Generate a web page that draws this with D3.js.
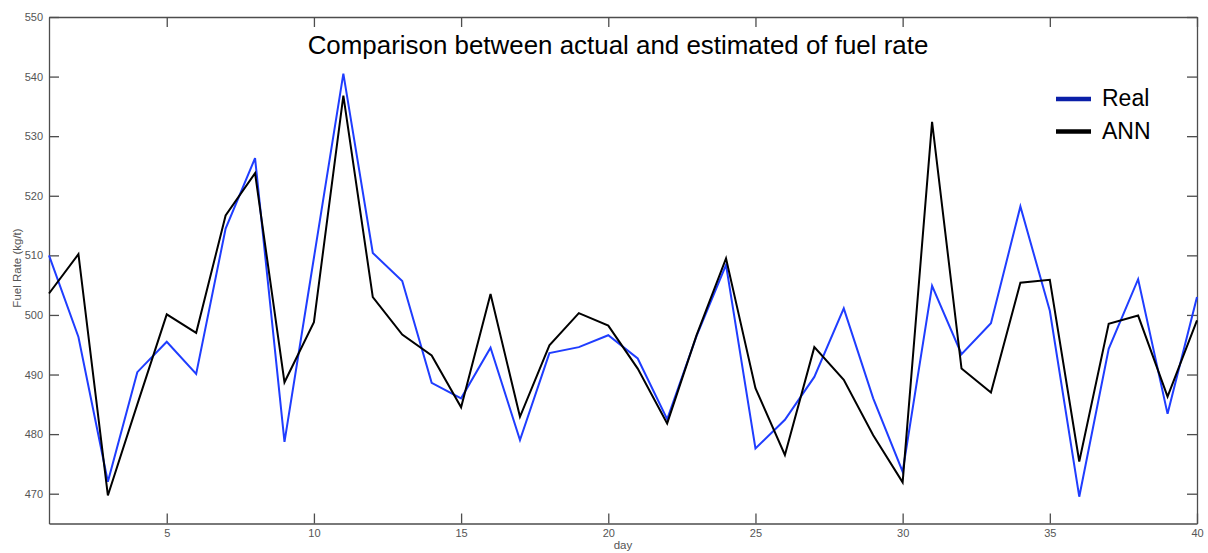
<!DOCTYPE html>
<html>
<head>
<meta charset="utf-8">
<script src="https://cdn.jsdelivr.net/npm/d3@7"></script>
<style>
  body { margin: 0; background: #fff; }
  svg { display: block; font-family: "Liberation Sans", Arial, Helvetica, sans-serif; }
  .axis path, .axis line { stroke: #4d4d4d; stroke-width: 1.3; }
  .axis text { fill: #555; font-size: 11px; }
</style>
</head>
<body>
<div id="chart"></div>
<script>
// values
var days = d3.range(1, 41);
var realRate = [510, 496.3, 472, 490.4, 495.5, 490.1, 514.5, 526.3, 478.7, 509.6,
                540.5, 510.4, 505.7, 488.6, 486, 494.5, 479, 493.6, 494.6, 496.6,
                492.7, 482.5, 496.5, 508.4, 477.6, 482.4, 489.6, 501.1, 486, 473.7,
                504.9, 493.4, 498.6, 518.2, 500.7, 469.5, 494.3, 506, 483.4, 503];
var annRate = [503.6, 510.2, 469.7, 485, 500.1, 497, 516.7, 523.8, 488.7, 498.8,
               536.8, 503, 496.7, 493.2, 484.5, 503.5, 482.9, 494.9, 500.3, 498.2,
               491, 481.8, 496.6, 509.5, 487.7, 476.5, 494.6, 489.1, 479.8, 471.9,
               532.4, 491, 487, 505.4, 505.9, 475.4, 498.5, 499.9, 486.3, 499.1];
var yTicks = [470, 480, 490, 500, 510, 520, 530, 540, 550];
var xTicks = [5, 10, 15, 20, 25, 30, 35, 40];
var series = [
  {name: "Real", values: realRate, color: "#1f3dff"},
  {name: "ANN", values: annRate, color: "#000000"}
];

var width = 1208, height = 553;
var margin = {left: 49, right: 11, top: 17, bottom: 29.5};

var svg = d3.select("#chart").append("svg")
    .attr("width", width)
    .attr("height", height);

var x = d3.scaleLinear()
    .domain([1, 40])
    .range([margin.left, width - margin.right]);
var y = d3.scaleLinear()
    .domain([465, 550])
    .range([height - margin.bottom, margin.top]);

// axes, ticks point inward like matlab
svg.append("g")
    .attr("class", "axis")
    .attr("transform", "translate(0," + y(465) + ")")
    .call(d3.axisBottom(x).tickValues(xTicks).tickSizeInner(-10).tickSizeOuter(0).tickPadding(6));
svg.append("g")
    .attr("class", "axis")
    .attr("transform", "translate(0," + y(550) + ")")
    .call(d3.axisTop(x).tickValues(xTicks).tickSizeInner(-10).tickSizeOuter(0).tickFormat(""));
svg.append("g")
    .attr("class", "axis")
    .attr("transform", "translate(" + x(1) + ",0)")
    .call(d3.axisLeft(y).tickValues(yTicks).tickSizeInner(-10).tickSizeOuter(0).tickPadding(6));
svg.append("g")
    .attr("class", "axis")
    .attr("transform", "translate(" + x(40) + ",0)")
    .call(d3.axisRight(y).tickValues(yTicks).tickSizeInner(-10).tickSizeOuter(0).tickFormat(""));

var line = d3.line()
    .x(function (d, i) { return x(days[i]); })
    .y(function (d) { return y(d); });

svg.selectAll(".series")
    .data(series)
    .enter().append("path")
    .attr("class", "series")
    .attr("fill", "none")
    .attr("stroke", function (d) { return d.color; })
    .attr("stroke-width", 2)
    .attr("stroke-linejoin", "miter")
    .attr("d", function (d) { return line(d.values); });

// title
var title = svg.append("text")
    .attr("x", 618)
    .attr("y", 53.5)
    .attr("text-anchor", "middle")
    .attr("font-size", 24)
    .attr("fill", "#000")
    .text("Comparison between actual and estimated of fuel rate");
var tw = title.node().getComputedTextLength();
title.attr("font-size", 24 * 621 / tw);

// axis labels
svg.append("text")
    .attr("x", 623)
    .attr("y", 549)
    .attr("text-anchor", "middle")
    .attr("font-size", 11.5)
    .attr("fill", "#555")
    .text("day");
svg.append("text")
    .attr("transform", "translate(21,268) rotate(-90)")
    .attr("text-anchor", "middle")
    .attr("font-size", 11.5)
    .attr("fill", "#555")
    .text("Fuel Rate (kg/t)");

// legend
var legend = svg.selectAll(".legend")
    .data(series)
    .enter().append("g")
    .attr("class", "legend")
    .attr("transform", function (d, i) { return "translate(1056," + (99 + i * 32.5) + ")"; });
legend.append("line")
    .attr("x1", 0).attr("x2", 35)
    .attr("stroke", function (d, i) { return i === 0 ? "#0a1fa8" : "#000"; })
    .attr("stroke-width", 4.5);
legend.append("text")
    .attr("x", 46)
    .attr("y", 7)
    .attr("font-size", 23)
    .attr("fill", "#000")
    .text(function (d) { return d.name; });
</script>
</body>
</html>
